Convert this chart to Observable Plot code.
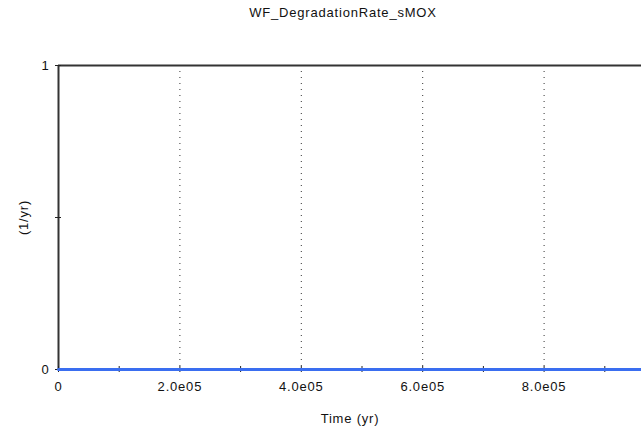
<!DOCTYPE html>
<html><head><meta charset="utf-8">
<script src="https://cdn.jsdelivr.net/npm/d3@7"></script>
<script src="https://cdn.jsdelivr.net/npm/@observablehq/plot@0.6"></script>
<style>
html,body{margin:0;padding:0;background:#fff;overflow:hidden;}
#wrap{position:relative;width:641px;height:434px;font-family:"Liberation Sans",Arial,sans-serif;}
#title{position:absolute;top:5px;left:0;width:686px;text-align:center;font-size:13px;letter-spacing:0.8px;color:#111;}
svg text{letter-spacing:0.8px;}
</style></head>
<body>
<div id="wrap"><div id="title"></div><div id="chart"></div></div>
<script>
const title = "WF_DegradationRate_sMOX";
const xLabel = "Time (yr)";
const yLabel = "(1/yr)";
const times = [0, 1000000];
const values = [0, 0];
const xLabelTicks = [0, 200000, 400000, 600000, 800000, 1000000];
const xLabelTickText = ["0", "2.0e05", "4.0e05", "6.0e05", "8.0e05", "1.0e06"];
const xMinorTicks = [0, 100000, 200000, 300000, 400000, 500000, 600000, 700000, 800000, 900000, 1000000];
const xGrid = [200000, 400000, 600000, 800000];
const yTicks = [0, 0.5, 1];
const yTickText = {0: "0", 0.5: "", 1: "1"};

document.getElementById("title").textContent = title;
const data = times.map((t, i) => ({t, v: values[i]}));
const fmtX = d => xLabelTickText[xLabelTicks.indexOf(d)];

const chart = Plot.plot({
  width: 641, height: 434,
  marginLeft: 58, marginTop: 65, marginBottom: 65, marginRight: 0,
  style: {fontFamily: "Liberation Sans, Arial, sans-serif", fontSize: "13px", color: "#111", overflow: "visible"},
  x: {domain: [0, 1000000], range: [58, 665]},
  y: {domain: [0, 1]},
  marks: [
    Plot.ruleX(xGrid, {stroke: "#333", strokeDasharray: "1,5", strokeWidth: 1}),
    Plot.ruleY([1], {stroke: "#333", strokeWidth: 2}),
    Plot.ruleX([0], {stroke: "#333", strokeWidth: 2}),
    Plot.axisX({ticks: xMinorTicks, tickSize: 6, dy: -3, tickFormat: () => "", stroke: "#222", label: null}),
    Plot.axisX({ticks: xLabelTicks, tickSize: 0, tickPadding: 12, tickFormat: fmtX, label: xLabel, labelAnchor: "center", labelArrow: "none", labelOffset: 53, fill: "#111"}),
    Plot.axisY({ticks: yTicks, tickSize: 6, dx: 3, tickFormat: () => "", stroke: "#222", label: null}),
    Plot.axisY({ticks: yTicks, tickSize: 0, tickPadding: 9, tickFormat: d => yTickText[d], label: yLabel, labelAnchor: "center", labelArrow: "none", labelOffset: 40, fill: "#111"}),
    Plot.line(data, {x: "t", y: "v", stroke: "#3a6ef0", strokeWidth: 3})
  ]
});
document.getElementById("chart").appendChild(chart);
</script>
</body></html>
